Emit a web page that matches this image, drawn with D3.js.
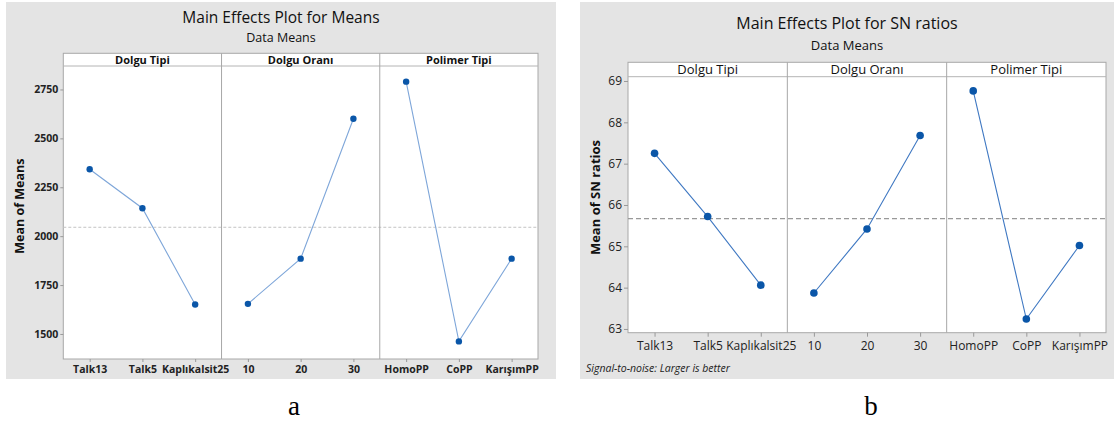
<!DOCTYPE html>
<html>
<head>
<meta charset="utf-8">
<script src="https://cdn.jsdelivr.net/npm/d3@7"></script>
<style>
  body { margin: 0; background: #fff; }
  svg { display: block; }
</style>
</head>
<body>
<script>
// factors and their levels (same for both plots)
const factors = ["Dolgu Tipi", "Dolgu Oranı", "Polimer Tipi"];
const levels = [
  ["Talk13", "Talk5", "Kaplıkalsit25"],
  ["10", "20", "30"],
  ["HomoPP", "CoPP", "KarışımPP"]
];

// (a) means
const meansA = [
  [2342, 2143, 1651],
  [1654, 1885, 2600],
  [2790, 1462, 1885]
];
const grandMeanA = 2045.5;
const ticksA = [1500, 1750, 2000, 2250, 2500, 2750];

// (b) SN ratios
const snB = [
  [67.25, 65.72, 64.06],
  [63.87, 65.42, 67.68],
  [68.76, 63.24, 65.02]
];
const grandMeanB = 65.67;
const ticksB = [63, 64, 65, 66, 67, 68, 69];

var W = 1117, H = 425;
var svg = d3.select("body").append("svg").attr("width", W).attr("height", H);
var font = "'Open Sans', 'Noto Sans', sans-serif";

function drawPanel(cfg) {
  var g = svg.append("g");

  // gray background
  g.append("rect")
    .attr("x", cfg.bg[0]).attr("y", cfg.bg[1])
    .attr("width", cfg.bg[2]).attr("height", cfg.bg[3])
    .attr("fill", "#e4e4e4");

  // titles
  g.append("text")
    .attr("x", cfg.bg[0] + cfg.bg[2] / 2).attr("y", cfg.titleY)
    .attr("text-anchor", "middle")
    .attr("font-family", font).attr("font-size", cfg.titleSize)
    .attr("fill", "#111")
    .text(cfg.title);
  g.append("text")
    .attr("x", cfg.bg[0] + cfg.bg[2] / 2).attr("y", cfg.subY)
    .attr("text-anchor", "middle")
    .attr("font-family", font).attr("font-size", cfg.subSize)
    .attr("fill", "#111")
    .text("Data Means");

  var y = d3.scaleLinear().domain(cfg.yDomain).range([cfg.bottom, cfg.stripBottom]);
  var fx = d3.scaleBand().domain(factors).range([cfg.left, cfg.right]);

  // plot area + strip
  g.append("rect")
    .attr("x", cfg.left).attr("y", cfg.stripTop)
    .attr("width", cfg.right - cfg.left).attr("height", cfg.bottom - cfg.stripTop)
    .attr("fill", "#fff").attr("stroke", "#a8a8a8").attr("stroke-width", 1);
  g.append("line")
    .attr("x1", cfg.left).attr("x2", cfg.right)
    .attr("y1", cfg.stripBottom).attr("y2", cfg.stripBottom)
    .attr("stroke", "#b4b4b4");

  // y axis
  var yAxis = d3.axisLeft(y).tickValues(cfg.ticks).tickFormat(d3.format("d"))
    .tickSize(cfg.tickLen).tickPadding(2);
  var ya = g.append("g").attr("transform", "translate(" + cfg.left + ",0)").call(yAxis);
  ya.select(".domain").remove();
  ya.selectAll("line").attr("stroke", "#999");
  ya.selectAll("text")
    .attr("font-family", font).attr("font-size", cfg.tickFont)
    .attr("font-weight", cfg.weight).attr("fill", "#222");

  // y label
  g.append("text")
    .attr("transform", "translate(" + cfg.yLabelX + "," + (cfg.stripTop + cfg.bottom) / 2 + ") rotate(-90)")
    .attr("text-anchor", "middle")
    .attr("font-family", font).attr("font-size", cfg.yLabelSize)
    .attr("font-weight", 700).attr("fill", "#111")
    .text(cfg.yLabel);

  // grand mean dashed line
  g.append("line")
    .attr("x1", cfg.left).attr("x2", cfg.right)
    .attr("y1", y(cfg.grand)).attr("y2", y(cfg.grand))
    .attr("stroke", cfg.dashColor).attr("stroke-width", cfg.dashWidth)
    .attr("stroke-dasharray", cfg.dash);

  factors.forEach(function (f, i) {
    var x0 = fx(f);
    var xi = d3.scalePoint().domain(levels[i]).range([0, fx.bandwidth()]).padding(0.5);
    var fg = g.append("g").attr("transform", "translate(" + x0 + ",0)");

    // facet divider
    if (i > 0) {
      fg.append("line")
        .attr("x1", 0).attr("x2", 0)
        .attr("y1", cfg.stripTop).attr("y2", cfg.bottom)
        .attr("stroke", "#a8a8a8");
    }

    // strip label
    fg.append("text")
      .attr("x", fx.bandwidth() / 2).attr("y", cfg.stripText)
      .attr("text-anchor", "middle")
      .attr("font-family", font).attr("font-size", cfg.stripFont)
      .attr("font-weight", cfg.weight).attr("fill", "#111")
      .text(f);

    // x axis
    var xa = fg.append("g").attr("transform", "translate(0," + cfg.bottom + ")")
      .call(d3.axisBottom(xi).tickSize(cfg.tickLen).tickPadding(cfg.xPad));
    xa.select(".domain").remove();
    xa.selectAll("line").attr("stroke", "#999");
    xa.selectAll("text")
      .attr("font-family", font).attr("font-size", cfg.tickFont)
      .attr("font-weight", cfg.weight).attr("fill", "#222");

    var vals = cfg.values[i];
    var pts = levels[i].map(function (l, j) { return [xi(l), y(vals[j])]; });

    fg.append("path")
      .attr("d", d3.line()(pts))
      .attr("fill", "none").attr("stroke", cfg.lineColor).attr("stroke-width", 1.1);

    fg.selectAll("circle").data(pts).enter().append("circle")
      .attr("cx", function (d) { return d[0]; })
      .attr("cy", function (d) { return d[1]; })
      .attr("r", cfg.r)
      .attr("fill", "#0a56a8");
  });

  // panel letter
  svg.append("text")
    .attr("x", cfg.letterX).attr("y", 415)
    .attr("text-anchor", "middle")
    .attr("font-family", "'Liberation Serif', 'Times New Roman', serif")
    .attr("font-size", 27).attr("fill", "#000")
    .text(cfg.letter);

  return g;
}

drawPanel({
  bg: [6, 2, 550, 377],
  title: "Main Effects Plot for Means", titleY: 23, titleSize: 15.5,
  subY: 42, subSize: 12.5,
  left: 63.3, right: 538, stripTop: 53.3, stripBottom: 66, bottom: 359,
  yDomain: [1372, 2870], ticks: ticksA, grand: grandMeanA, values: meansA,
  tickLen: 3, tickFont: 10.5, stripFont: 11, stripText: 63.5, weight: 700, xPad: 4,
  yLabel: "Mean of Means", yLabelX: 24, yLabelSize: 12.5,
  dashColor: "#c4c4c4", dashWidth: 1, dash: "3,2",
  lineColor: "#7ea6d9", r: 3.2,
  letter: "a", letterX: 294
});

var pb = drawPanel({
  bg: [580, 2, 534, 377],
  title: "Main Effects Plot for SN ratios", titleY: 29, titleSize: 16,
  subY: 50, subSize: 13,
  left: 628, right: 1106, stripTop: 62.3, stripBottom: 76.7, bottom: 332.7,
  yDomain: [62.91, 69.104], ticks: ticksB, grand: grandMeanB, values: snB,
  tickLen: 4, tickFont: 12, stripFont: 13, stripText: 74, weight: 400, xPad: 5,
  yLabel: "Mean of SN ratios", yLabelX: 600, yLabelSize: 13,
  dashColor: "#999", dashWidth: 1.3, dash: "5,3",
  lineColor: "#3f78c2", r: 3.8,
  letter: "b", letterX: 871
});

pb.append("text")
  .attr("x", 586).attr("y", 372)
  .attr("font-family", font).attr("font-size", 10.5)
  .attr("font-style", "italic").attr("fill", "#222")
  .text("Signal-to-noise: Larger is better");
</script>
</body>
</html>
